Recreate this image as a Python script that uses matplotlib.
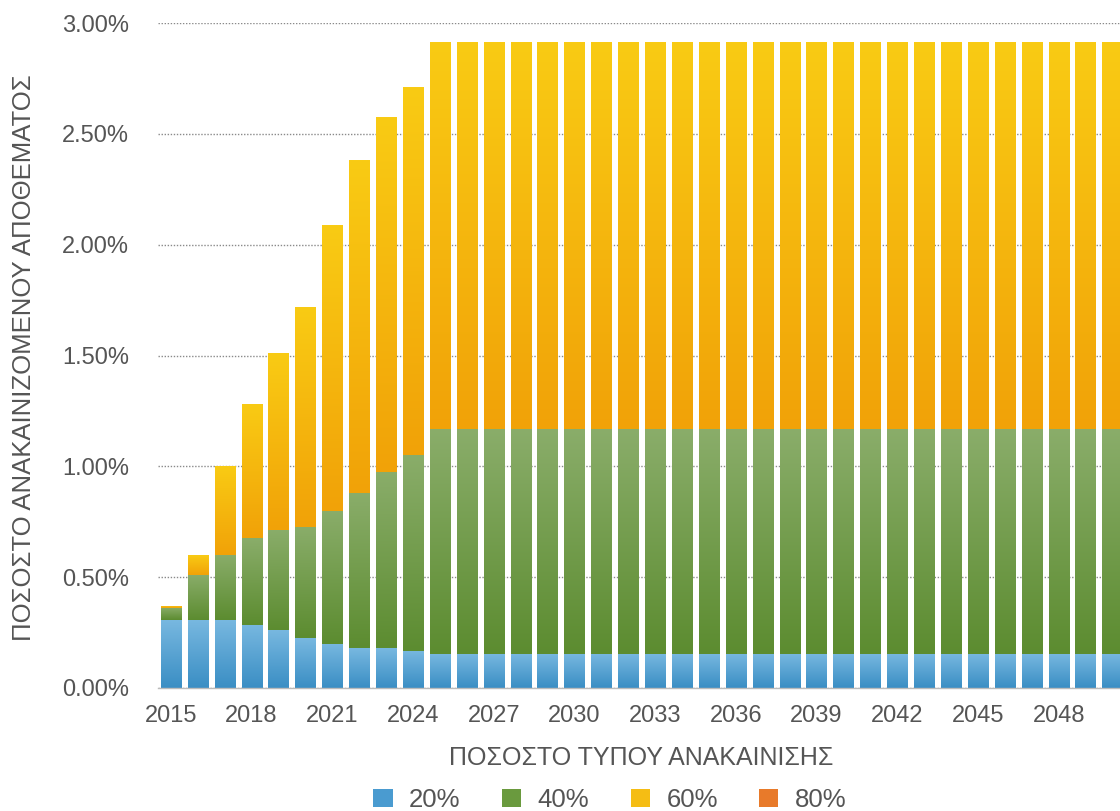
import numpy as np
import matplotlib
matplotlib.use("Agg")
import matplotlib.pyplot as plt
from matplotlib.colors import LinearSegmentedColormap
from matplotlib.patches import Patch

plt.rcParams['font.family'] = ['Liberation Sans', 'DejaVu Sans']

years = list(range(2015, 2051))
# stacked shares (% of stock) per renovation depth
s20 = [0.305, 0.305, 0.305, 0.285, 0.26, 0.225, 0.20, 0.18, 0.18, 0.167] + [0.155] * 26
s40_top = [0.36, 0.51, 0.60, 0.675, 0.713, 0.727, 0.80, 0.88, 0.975, 1.05] + [1.17] * 26
total = [0.37, 0.60, 1.00, 1.28, 1.51, 1.72, 2.09, 2.38, 2.575, 2.71] + [2.915] * 26
s40 = [b - a for a, b in zip(s20, s40_top)]
s60 = [c - b for b, c in zip(s40_top, total)]
s80 = [0.0] * len(years)

series_labels = ['20%', '40%', '60%', '80%']
yticks = [0.0, 0.5, 1.0, 1.5, 2.0, 2.5, 3.0]
xticks = list(range(2015, 2049, 3))

grad = {
    '20%': ('#3a8ec4', '#78b8e0'),
    '40%': ('#5c8c30', '#8aad6a'),
    '60%': ('#f1a208', '#f9cb14'),
    '80%': ('#e06a1a', '#f09040'),
}
legend_colors = ['#4a9bd0', '#6a9a3e', '#f5bd14', '#e87a2a']

fig = plt.figure(figsize=(11.2, 8.11), dpi=100)
ax = fig.add_axes([158 / 1120, (811 - 688) / 811, 1 - 158 / 1120, (688 - 23) / 811])

width = 0.75
bottom = np.zeros(len(years))
grad_img = np.linspace(0, 1, 256).reshape(-1, 1)
for lab, vals in zip(series_labels, [s20, s40, s60, s80]):
    vals = np.array(vals)
    bars = ax.bar(years, vals, width=width, bottom=bottom, color='none', edgecolor='none', zorder=2)
    cmap = LinearSegmentedColormap.from_list(lab, [grad[lab][0], grad[lab][1]])
    for rect, v in zip(bars, vals):
        if v <= 0:
            continue
        x0, y0 = rect.get_x(), rect.get_y()
        w, h = rect.get_width(), rect.get_height()
        im = ax.imshow(grad_img, cmap=cmap, origin='lower', aspect='auto',
                       extent=[x0, x0 + w, y0, y0 + h], zorder=2, interpolation='bilinear')
        im.set_clip_path(rect)
    bottom = bottom + vals

ax.set_xlim(2014.52, 2050.28)
ax.set_ylim(0, 3.0)
ax.set_yticks(yticks)
ax.set_yticklabels([f'{v:.2f}%' for v in yticks])
ax.set_xticks(xticks)
ax.set_xticklabels([str(x) for x in xticks])
ax.tick_params(axis='both', length=0, labelsize=17, colors='#555555')
ax.tick_params(axis='y', pad=21)
ax.tick_params(axis='x', pad=12)
ax.yaxis.grid(True, linestyle=(0, (1, 1.2)), color='#8a8a8a', linewidth=1.0, zorder=0)
ax.set_axisbelow(True)
for sp in ['top', 'right', 'left']:
    ax.spines[sp].set_visible(False)
ax.spines['bottom'].set_color('#bbbbbb')
ax.spines['bottom'].set_linewidth(1)

fig.text(24 / 1120, 1 - 358 / 811, 'ΠΟΣΟΣΤΟ ΑΝΑΚΑΙΝΙΖΟΜΕΝΟΥ ΑΠΟΘΕΜΑΤΟΣ', rotation=90,
         ha='center', va='center', fontsize=18.5, color='#555555')
fig.text(641 / 1120, 1 - 758 / 811, 'ΠΟΣΟΣΤΟ ΤΥΠΟΥ ΑΝΑΚΑΙΝΙΣΗΣ', ha='center', va='center',
         fontsize=18, color='#555555')

handles = [Patch(facecolor=c, edgecolor='none') for c in legend_colors]
leg = fig.legend(handles, series_labels, loc='center', bbox_to_anchor=(610 / 1120, 1 - 800 / 811),
                 ncol=4, frameon=False, fontsize=18.5, handlelength=0.75, handleheight=0.75,
                 columnspacing=1.6, handletextpad=0.65, borderaxespad=0, borderpad=0)
for t in leg.get_texts():
    t.set_color('#555555')

fig.savefig('out.png', dpi=100)
